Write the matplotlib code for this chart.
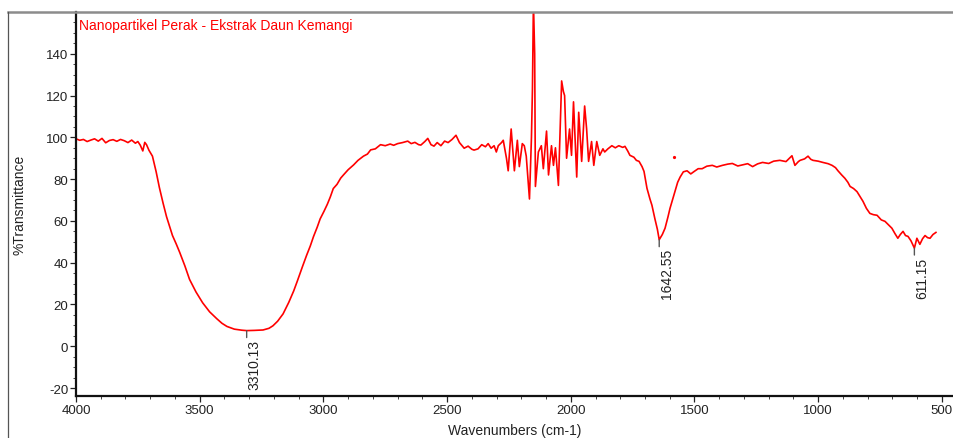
import numpy as np
import matplotlib
matplotlib.use("Agg")
import matplotlib.pyplot as plt
from matplotlib.lines import Line2D
from matplotlib.ticker import MultipleLocator, FixedLocator

plt.rcParams["font.family"] = ["Liberation Sans", "DejaVu Sans"]
plt.rcParams["axes.unicode_minus"] = False

# FTIR spectrum (wavenumber cm-1, %T)
wavenumber = [
    4000, 3985, 3970, 3955, 3940, 3925, 3910, 3895, 3880, 3865, 3850, 3835,
    3820, 3805, 3790, 3775, 3760, 3750, 3740, 3730, 3722, 3715, 3705, 3691,
    3676, 3663, 3648, 3634, 3622, 3610, 3595, 3581, 3560, 3541, 3515, 3488,
    3460, 3431, 3410, 3390, 3360, 3330, 3310.13, 3280, 3244, 3220, 3204, 3185,
    3163, 3140, 3120, 3106, 3085, 3068, 3053, 3040, 3025, 3013, 2998, 2984,
    2972, 2960, 2945, 2930, 2919, 2900, 2878, 2860, 2838, 2822, 2809, 2790,
    2769, 2750, 2730, 2716, 2700, 2680, 2659, 2645, 2630, 2615, 2606, 2590,
    2578, 2565, 2553, 2540, 2525, 2510, 2496, 2480, 2464, 2450, 2431, 2415,
    2400, 2391, 2375, 2360, 2345, 2334, 2322, 2310, 2301, 2293, 2280, 2273,
    2260, 2253, 2241, 2228, 2216, 2208, 2196, 2188, 2180, 2167, 2159, 2155,
    2151, 2146, 2143, 2131, 2119, 2111, 2098, 2090, 2078, 2070, 2062, 2050,
    2037, 2030, 2025, 2017, 2005, 1997, 1989, 1976, 1968, 1956, 1944, 1936,
    1928, 1916, 1907, 1895, 1883, 1870, 1863, 1850, 1834, 1820, 1806, 1790,
    1781, 1770, 1761, 1745, 1735, 1724, 1712, 1704, 1692, 1680, 1672, 1660,
    1650, 1642.55, 1630, 1619, 1607, 1599, 1588, 1578, 1568, 1558, 1545, 1530,
    1515, 1501, 1485, 1469, 1450, 1428, 1410, 1387, 1365, 1347, 1325, 1306,
    1285, 1265, 1245, 1225, 1200, 1180, 1155, 1130, 1106, 1094, 1080, 1073,
    1055, 1041, 1030, 1021, 1000, 981, 960, 944, 930, 920, 905, 892,
    880, 871, 857, 843, 830, 819, 805, 791, 777, 762, 745, 730,
    715, 702, 690, 678, 668, 657, 647, 637, 625, 611.15, 601, 589,
    578, 568, 558, 548, 536, 524,
]
transmittance = [
    99.3, 98.6, 99.0, 98.0, 98.7, 99.3, 98.2, 99.5, 97.4, 98.5, 98.9, 98.1,
    99.0, 98.4, 97.5, 98.7, 97.2, 98.0, 96.2, 93.5, 97.6, 96.5, 93.8, 91.0,
    83.5, 76.0, 68.5, 62.0, 57.5, 53.0, 49.0, 45.0, 38.5, 32.0, 26.0, 20.8,
    16.5, 13.2, 11.0, 9.5, 8.2, 7.7, 7.5, 7.6, 7.8, 8.6, 9.8, 12.0,
    15.5, 21.0, 26.5, 31.0, 38.0, 43.5, 48.0, 52.5, 57.0, 61.0, 64.5, 68.0,
    71.5, 75.5, 77.5, 80.5, 82.0, 84.5, 86.8, 89.0, 91.0, 92.0, 94.0, 94.5,
    96.5, 96.0, 96.8, 96.2, 97.0, 97.5, 98.2, 97.0, 97.6, 96.5, 96.3, 98.0,
    99.5, 96.5, 95.8, 97.5, 96.0, 98.2, 97.5, 99.0, 101.0, 97.5, 94.8, 95.8,
    94.3, 93.9, 94.5, 96.5, 95.5, 97.0, 94.8, 96.0, 93.0, 96.0, 97.5, 98.6,
    90.0, 84.0, 104.0, 84.0, 98.6, 86.0, 97.0, 96.0, 91.0, 70.5, 100.0, 123.0,
    165.0, 140.0, 76.5, 93.0, 96.0, 85.0, 103.0, 82.0, 96.0, 86.6, 95.0, 77.0,
    127.0, 122.0, 120.0, 90.0, 104.0, 91.4, 117.0, 81.0, 112.0, 88.5, 115.0, 104.0,
    88.5, 98.0, 86.6, 98.0, 91.4, 94.5, 93.0, 94.5, 96.0, 95.0, 96.0, 95.2,
    95.7, 93.5, 91.4, 90.5, 89.0, 88.5, 86.0, 83.7, 75.6, 70.5, 67.5, 61.0,
    56.0, 51.0, 53.5, 56.5, 62.0, 66.0, 70.5, 74.6, 78.5, 81.0, 83.5, 84.0,
    82.5, 83.7, 85.0, 85.0, 86.2, 86.6, 85.8, 86.6, 87.2, 87.5, 86.3, 86.8,
    87.4, 86.0, 87.3, 88.0, 87.5, 88.6, 89.0, 88.4, 91.2, 86.6, 88.4, 89.0,
    89.7, 91.0, 89.5, 89.0, 88.6, 88.0, 87.4, 86.6, 85.5, 84.0, 82.0, 80.4,
    78.5, 76.5, 75.5, 74.0, 71.5, 69.4, 66.0, 63.6, 63.0, 62.7, 60.5, 59.8,
    58.0, 56.5, 54.0, 51.7, 53.5, 55.0, 53.0, 52.6, 50.5, 47.0, 51.7, 48.8,
    51.5, 53.0, 52.0, 51.7, 53.5, 54.5,
]

# isolated point near 1580 cm-1
stray_wn = [1582]
stray_t = [90.4]

peak_wn = [3310.13, 1642.55, 611.15]
y_ticks = [-20, 0, 20, 40, 60, 80, 100, 120, 140]
title = "Nanopartikel Perak - Ekstrak Daun Kemangi"

wn = np.array(wavenumber)
tr = np.array(transmittance)

fig = plt.figure(figsize=(9.54, 4.39), dpi=100)
ax = fig.add_axes([76 / 954, 1 - 397 / 439, 1 - 76 / 954, (397 - 13) / 439])

ax.plot(wn, tr, color="#ff0000", lw=1.2)
ax.plot(stray_wn, stray_t, "o", color="#ff0000", ms=1.3)

ax.set_xlim(4000, 451)
ax.set_ylim(-23.8, 160)
ax.xaxis.set_major_locator(MultipleLocator(500))
ax.xaxis.set_minor_locator(MultipleLocator(100))
ax.yaxis.set_major_locator(FixedLocator(y_ticks))
ax.yaxis.set_minor_locator(MultipleLocator(5))

for side in ["top", "right"]:
    ax.spines[side].set_visible(False)
for side in ["left", "bottom"]:
    ax.spines[side].set_linewidth(1.6)
    ax.spines[side].set_color("#111111")

ax.tick_params(which="major", direction="out", length=4, width=0.9,
               colors="#222222", labelsize=9.5, pad=1.5)
ax.tick_params(which="minor", direction="out", length=2.5, width=0.7,
               colors="#444444")

ax.set_xlabel("Wavenumbers (cm-1)", fontsize=10, color="#222222", labelpad=5)
ax.set_ylabel("%Transmittance", fontsize=10, color="#222222", labelpad=14)

ax.text(0.003, 0.985, title, transform=ax.transAxes, color="#ff0000",
        fontsize=10, ha="left", va="top")

# peak labels
for pw in peak_wn:
    pt = np.interp(pw, wn[::-1], tr[::-1])
    ax.annotate("", xy=(pw, pt), xytext=(0, -5), textcoords="offset points",
                arrowprops=dict(arrowstyle="-", color="#555555", lw=1.0,
                                shrinkA=0, shrinkB=0))
    ax.annotate(f"{pw:.2f}", xy=(pw, pt), xytext=(0.5, -6),
                textcoords="offset points", rotation=90, ha="left", va="top",
                fontsize=10, color="#222222")

# outer frame
top_y = 1 - 13 / 439
fig.add_artist(Line2D([8.5 / 954, 1], [top_y, top_y], color="#8c8c8c", lw=1.8))
fig.add_artist(Line2D([8.5 / 954, 8.5 / 954], [0, top_y], color="#555555", lw=0.9))

fig.savefig("out.png", dpi=100)
